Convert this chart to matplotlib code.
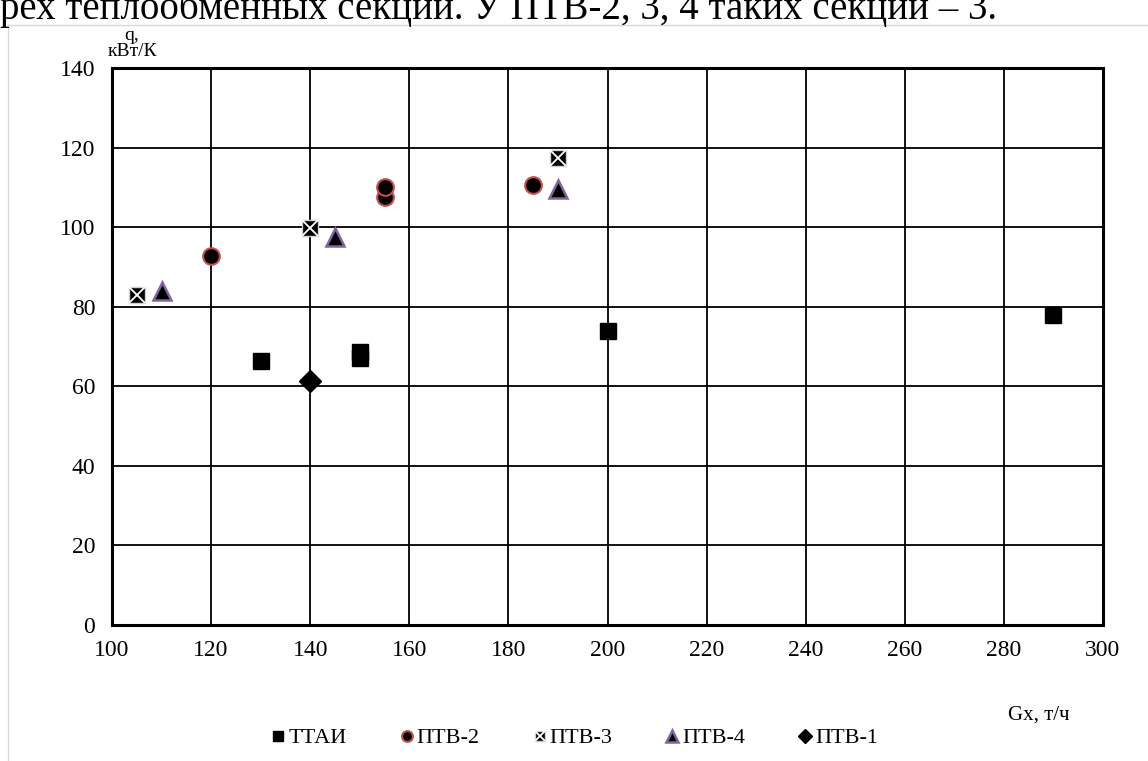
import numpy as np
import matplotlib.pyplot as plt
from matplotlib.lines import Line2D

plt.rcParams['font.family'] = ['Liberation Serif', 'DejaVu Serif']

# данные (Gx, т/ч ; q, кВт/К)
ttai_x = [130, 150, 150, 200, 290]
ttai_y = [66.3, 67.1, 68.6, 74.0, 77.8]
ptv2_x = [120, 155, 155, 185]
ptv2_y = [92.7, 107.5, 110.0, 110.7]
ptv3_x = [105, 140, 190]
ptv3_y = [82.9, 99.7, 117.3]
ptv4_x = [110, 145, 190]
ptv4_y = [84.0, 97.6, 109.5]
ptv1_x = [140]
ptv1_y = [61.4]

fig = plt.figure(figsize=(11.48, 7.61), dpi=100)
W, H = 1148, 761
ax = fig.add_axes([112 / W, 1 - 625 / H, (1103 - 112) / W, (625 - 68) / H])

ax.set_xlim(100, 300)
ax.set_ylim(0, 140)
ax.set_xticks(np.arange(100, 301, 20))
ax.set_yticks(np.arange(0, 141, 20))
ax.grid(True, color='black', linewidth=1.3)
ax.set_axisbelow(True)
ax.tick_params(length=0, labelsize=17)
ax.tick_params(axis='x', pad=11)
ax.tick_params(axis='y', pad=12)
for s in ax.spines.values():
    s.set_linewidth(2.2)

ms = 12
h1, = ax.plot(ttai_x, ttai_y, 's', color='black', ms=ms, mec='black', ls='none')
h2, = ax.plot(ptv2_x, ptv2_y, 'o', color='black', ms=ms, mec='#c0504d', mew=1.5, ls='none')
h3a, = ax.plot(ptv3_x, ptv3_y, 's', color='black', ms=ms, mec='#d0d0d0', mew=1, ls='none')
h3b, = ax.plot(ptv3_x, ptv3_y, 'x', color='white', ms=ms * 0.95, mew=1.3, ls='none')
h4, = ax.plot(ptv4_x, ptv4_y, '^', color='black', ms=ms + 1, mec='#8064a2', mew=1.8, ls='none')
h5, = ax.plot(ptv1_x, ptv1_y, 'D', color='black', ms=11.5, mec='black', ls='none')

fig.legend([h1, h2, (h3a, h3b), h4, h5],
           ['ТТАИ', 'ПТВ-2', 'ПТВ-3', 'ПТВ-4', 'ПТВ-1'],
           ncol=5, loc='center', bbox_to_anchor=(575 / W, 1 - 738 / H),
           frameon=False, fontsize=16, markerscale=0.65,
           handlelength=0.6, handletextpad=0.15, columnspacing=2.4)

fig.text(132 / W, 1 - 35 / H, 'q,', fontsize=14, ha='center', va='center')
fig.text(132 / W, 1 - 51 / H, 'кВт/К', fontsize=14, ha='center', va='center')
fig.text(1039 / W, 1 - 715 / H, 'Gx, т/ч', fontsize=15, ha='center', va='center')

# обрезанная строка текста и рамка области диаграммы
fig.text(0, 1 - 19 / H, 'рех теплообменных секций. У ПТВ-2, 3, 4 таких секций – 3.',
         fontsize=28, ha='left', va='baseline')
fig.add_artist(Line2D([8 / W, 1], [1 - 25 / H] * 2, color='#d9d9d9', lw=1))
fig.add_artist(Line2D([8 / W] * 2, [0, 1 - 25 / H], color='#d9d9d9', lw=1))

plt.savefig('out.png', dpi=100)
